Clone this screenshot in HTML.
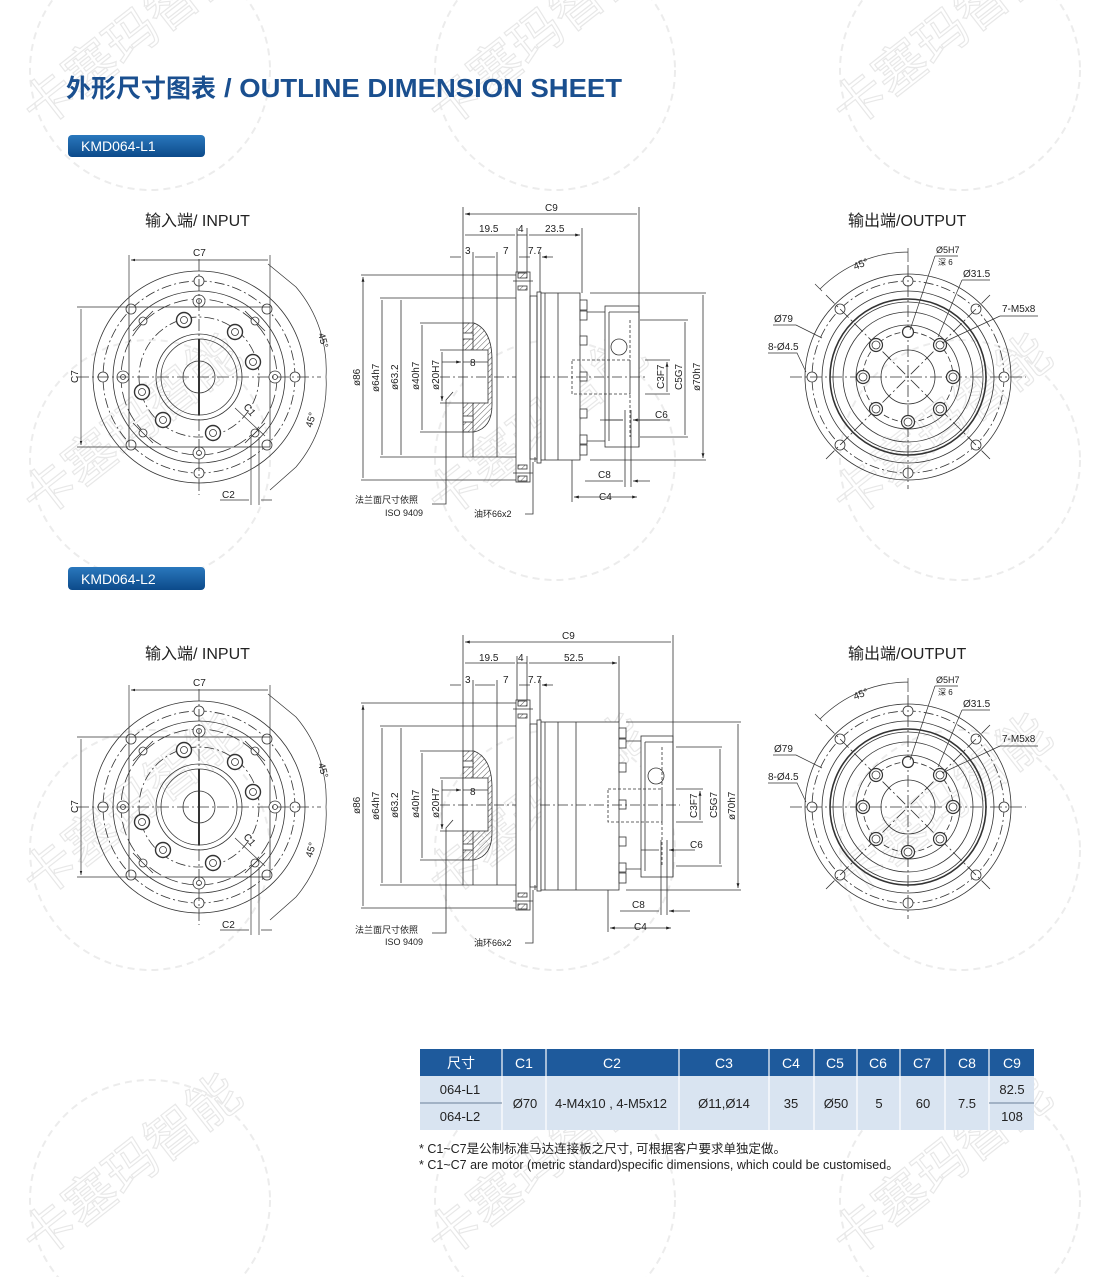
<!DOCTYPE html>
<html><head><meta charset="utf-8"><style>
html,body{margin:0;padding:0;background:#fff}
svg{display:block}
text{font-family:"Liberation Sans","Noto Sans CJK SC",sans-serif}
</style></head><body>
<svg width="1100" height="1277" viewBox="0 0 1100 1277" xmlns="http://www.w3.org/2000/svg">
<defs>
<marker id="a" viewBox="0 0 10 10" refX="10" refY="5" markerWidth="6" markerHeight="6" orient="auto-start-reverse"><path d="M0,2 L10,5 L0,8z" fill="#222"/></marker>
<linearGradient id="bg" x1="0" y1="0" x2="0" y2="1"><stop offset="0" stop-color="#2a78bd"/><stop offset="1" stop-color="#0c4a8a"/></linearGradient>
<pattern id="h" width="4" height="4" patternUnits="userSpaceOnUse" patternTransform="rotate(45)"><line x1="0" y1="0" x2="0" y2="4" stroke="#333" stroke-width="0.8"/></pattern>

<g id="inv" fill="none" stroke="#333" stroke-width="0.8">
 <circle r="106"/><circle r="86"/>
 <circle r="96" stroke-dasharray="10 3 2 3"/>
 <g fill="#fff"><circle cx="96" r="5"/><circle cx="-96" r="5"/><circle cy="96" r="5"/><circle cy="-96" r="5"/>
 <circle cx="68" cy="68" r="5"/><circle cx="-68" cy="68" r="5"/><circle cx="68" cy="-68" r="5"/><circle cx="-68" cy="-68" r="5"/></g>
 <rect x="-70" y="-70" width="141" height="140"/>
 <circle r="78" stroke-dasharray="14 4"/>
 <g fill="#fff"><circle cx="76" r="6"/><circle cx="-76" r="6"/><circle cy="76" r="6"/><circle cy="-76" r="6"/></g>
 <circle cx="76" r="2.5"/><circle cx="-76" r="2.5"/><circle cy="76" r="2.5"/><circle cy="-76" r="2.5"/>
 <g fill="#fff"><circle cx="56" cy="-56" r="4"/><circle cx="-56" cy="-56" r="4"/><circle cx="56" cy="56" r="4"/><circle cx="-56" cy="56" r="4"/></g>
 <path d="M46,-66 L66,-46 M-46,-66 L-66,-46 M46,66 L66,46 M-46,66 L-66,46"/>
 <circle r="60" stroke-dasharray="10 3 2 3"/>
 <g stroke-width="1.4" fill="#fff">
  <circle cx="-15" cy="-57" r="7.5"/><circle cx="36" cy="-45" r="7.5"/><circle cx="54" cy="-15" r="7.5"/>
  <circle cx="-57" cy="15" r="7.5"/><circle cx="-36" cy="43" r="7.5"/><circle cx="14" cy="56" r="7.5"/></g>
 <circle cx="-15" cy="-57" r="3.5"/><circle cx="36" cy="-45" r="3.5"/><circle cx="54" cy="-15" r="3.5"/>
 <circle cx="-57" cy="15" r="3.5"/><circle cx="-36" cy="43" r="3.5"/><circle cx="14" cy="56" r="3.5"/>
 <circle r="43"/><circle r="38"/><circle r="16"/>
 <path d="M-122,0 H122 M0,-118 V118" stroke-dasharray="12 3 2 3"/>
 <path d="M0,-38 V38" stroke-width="2"/>
</g>

<g id="outv" fill="none" stroke="#333" stroke-width="0.8">
 <circle r="103"/><circle r="96" stroke-dasharray="10 3 2 3"/>
 <g fill="#fff"><circle cx="96" r="5"/><circle cx="-96" r="5"/><circle cy="96" r="5"/><circle cy="-96" r="5"/>
 <circle cx="68" cy="68" r="5"/><circle cx="-68" cy="68" r="5"/><circle cx="68" cy="-68" r="5"/><circle cx="-68" cy="-68" r="5"/></g>
 <circle r="86"/><circle r="78" stroke-width="1.6"/><circle r="75"/><circle r="65"/><circle r="52"/>
 <circle r="45" stroke-dasharray="6 3"/><circle r="27"/>
 <path d="M-118,0 H118 M0,-112 V112 M-82,-82 L82,82 M82,-82 L-82,82" stroke-dasharray="12 3 2 3"/>
 <g fill="#fff" stroke-width="1.2"><circle cx="32" cy="-32" r="6.5"/><circle cx="45" r="6.5"/><circle cx="32" cy="32" r="6.5"/><circle cy="45" r="6.5"/><circle cx="-32" cy="32" r="6.5"/><circle cx="-45" r="6.5"/><circle cx="-32" cy="-32" r="6.5"/><circle cy="-45" r="5.5"/></g>
 <circle cx="32" cy="-32" r="4"/><circle cx="45" r="4"/><circle cx="32" cy="32" r="4"/><circle cy="45" r="4"/><circle cx="-32" cy="32" r="4"/><circle cx="-45" r="4"/><circle cx="-32" cy="-32" r="4"/>
</g>

<g id="sideL" fill="none" stroke="#333" stroke-width="0.8">
 <path d="M361,275 H516 M361,480 H516 M380,298 H463 M380,457 H463 M420,323 H470 M420,432 H470 M440,350 H463 M440,403 H463"/>
 <path d="M363,277 V478 M382,300 V455 M401,300 V455 M422,325 V430 M442,352 V401" marker-start="url(#a)" marker-end="url(#a)"/>
 <path d="M463,298 H516 M463,457 H516 M473,298 V457 M497,298 V457 M463,207 V457"/>
 <path d="M463,323 H474 Q492,330 492,360 V405 Q492,428 474,432 H463 Z" fill="url(#h)"/>
 <rect x="463" y="350" width="25" height="53" fill="#fff"/>
 <rect x="463" y="333" width="10" height="6" fill="#fff"/><rect x="463" y="416" width="10" height="6" fill="#fff"/>
 <path d="M463,362 H488" />
 <path d="M440,377 H520" stroke-dasharray="10 3 2 3"/>
 <rect x="516" y="272" width="14" height="210" fill="#fff"/>
 <rect x="518" y="273" width="9" height="5" fill="url(#h)"/><rect x="518" y="286" width="9" height="4" fill="url(#h)"/>
 <rect x="518" y="465" width="9" height="4" fill="url(#h)"/><rect x="518" y="476" width="9" height="5" fill="url(#h)"/>
 <path d="M513,281 H533 M513,473 H533"/>
 <rect x="530" y="296" width="7" height="163"/><rect x="537" y="292" width="4" height="171"/>
 <path d="M535,457 V462"/>
</g>
</defs>

<!-- watermarks -->
<g fill="none" stroke="#ececec" stroke-width="2" stroke-dasharray="7 5">
 <circle cx="150" cy="70" r="120"/><circle cx="555" cy="70" r="120"/><circle cx="960" cy="70" r="120"/>
 <circle cx="150" cy="460" r="120"/><circle cx="555" cy="460" r="120"/><circle cx="960" cy="460" r="120"/>
 <circle cx="150" cy="850" r="120"/><circle cx="555" cy="850" r="120"/><circle cx="960" cy="850" r="120"/>
 <circle cx="150" cy="1200" r="120"/><circle cx="555" cy="1200" r="120"/><circle cx="960" cy="1200" r="120"/>
</g>
<g fill="none" stroke="#e8e8e8" stroke-width="1.2" font-size="52" font-family="'Noto Sans CJK SC',sans-serif">
 <text transform="translate(40,130) rotate(-38)">卡塞玛智能</text>
 <text transform="translate(445,130) rotate(-38)">卡塞玛智能</text>
 <text transform="translate(850,130) rotate(-38)">卡塞玛智能</text>
 <text transform="translate(40,520) rotate(-38)">卡塞玛智能</text>
 <text transform="translate(445,520) rotate(-38)">卡塞玛智能</text>
 <text transform="translate(850,520) rotate(-38)">卡塞玛智能</text>
 <text transform="translate(40,900) rotate(-38)">卡塞玛智能</text>
 <text transform="translate(445,900) rotate(-38)">卡塞玛智能</text>
 <text transform="translate(850,900) rotate(-38)">卡塞玛智能</text>
 <text transform="translate(40,1260) rotate(-38)">卡塞玛智能</text>
 <text transform="translate(445,1260) rotate(-38)">卡塞玛智能</text>
 <text transform="translate(850,1260) rotate(-38)">卡塞玛智能</text>
</g>

<text x="66" y="97" font-size="25" font-weight="bold" fill="#1a4f8f" font-family="'Noto Sans CJK SC',sans-serif">外形尺寸图表</text>
<text x="224" y="97" font-size="26" font-weight="bold" fill="#1a4f8f" font-family="'Liberation Sans Narrow','Liberation Sans',sans-serif" textLength="398" lengthAdjust="spacingAndGlyphs">/ OUTLINE DIMENSION SHEET</text>

<rect x="68" y="135" width="137" height="22" rx="4" fill="url(#bg)"/>
<text x="81" y="151" font-size="14" fill="#fff">KMD064-L1</text>
<rect x="68" y="567" width="137" height="23" rx="4" fill="url(#bg)"/>
<text x="81" y="584" font-size="14" fill="#fff">KMD064-L2</text>

<g font-size="16" fill="#222"><text x="145" y="226">输入端/ INPUT</text><text x="848" y="226">输出端/OUTPUT</text>
<text x="145" y="659">输入端/ INPUT</text><text x="848" y="659">输出端/OUTPUT</text></g>

<g id="indims">
<use href="#inv" x="199" y="377"/>
<g fill="none" stroke="#333" stroke-width="0.7">
 <path d="M129,307 V255 M270,307 V255 M128,307 H77 M128,447 H77"/>
 <path d="M131,260 H268 M81,309 V445" marker-start="url(#a)" marker-end="url(#a)"/>
 <path d="M268,264 L296,287 A127,127 0 0 1 326,377 M326,377 A127,127 0 0 1 296,467 L270,490"/>
 <path d="M251,437 V505 M259,437 V505 M220,500 H249 M261,500 H272"/>
 <path d="M235,408 L265,436"/>
</g>
<g font-size="10" fill="#222"><text x="193" y="256">C7</text><text transform="translate(78,383) rotate(-90)">C7</text>
<text transform="translate(318,334) rotate(75)">45°</text><text transform="translate(312,428) rotate(-75)">45°</text>
<text transform="translate(243,407) rotate(50)">C1</text><text x="222" y="498">C2</text></g>
</g>
<use href="#indims" y="430"/>

<g id="outdims">
<use href="#outv" x="908" y="377"/>
<g fill="none" stroke="#333" stroke-width="0.7">
 <path d="M908,262 V248 M822,291 L815,284 M820,289 A125,125 0 0 1 908,252"/>
 <path d="M935,256 H958 M935,256 L910,330 M962,280 H990 M962,280 L938,337 M1000,316 H1038 M1000,316 L942,343 M773,325 H796 L822,338 M768,353 H797 L806,372"/>
</g>
<g font-size="10" fill="#222"><text x="936" y="253" font-size="9">Ø5H7</text><text x="938" y="265" font-size="8">深 6</text>
<text x="963" y="277">Ø31.5</text><text x="1002" y="312">7-M5x8</text><text x="774" y="322">Ø79</text><text x="768" y="350">8-Ø4.5</text>
<text transform="translate(855,270) rotate(-22)">45°</text></g>
</g>
<use href="#outdims" y="430"/>

<use href="#sideL"/>
<g fill="none" stroke="#333" stroke-width="0.8">
 <rect x="541" y="293" width="39" height="167" fill="#fff"/><path d="M558,293 V460 M545,293 V460"/>
 <g fill="#fff"><rect x="580" y="300" width="7" height="10"/><rect x="580" y="311" width="7" height="9"/><rect x="580" y="336" width="7" height="9"/><rect x="580" y="372" width="7" height="9"/><rect x="580" y="409" width="7" height="9"/><rect x="580" y="435" width="7" height="9"/><rect x="580" y="445" width="7" height="10"/></g>
 <path d="M587,312 H605 M587,441 H605"/>
 <rect x="605" y="306" width="34" height="141" fill="#fff"/><path d="M609,312 V441 M609,312 H639"/>
 <circle cx="619" cy="347" r="8"/>
 <path d="M572,360 H630 V394 H572 Z M630,320 V437" stroke-dasharray="3 2"/>
 <path d="M540,377 H645" stroke-dasharray="10 3 2 3"/>
 <path d="M639,207 V447 M582,228 V293 M517,228 V272 M527,228 V272 M473,252 V298 M497,252 V298 M540,252 V292"/>
 <path d="M465,214 H637 M465,235 H515 M529,235 H580" marker-start="url(#a)" marker-end="url(#a)"/>
 <path d="M517,235 H527"/>
 <path d="M450,257 H461 M486,257 H475 M484,257 H495 M530,257 H519 M522,257 H525 M553,257 H542" marker-end="url(#a)"/>
 <path d="M442,362 H461" marker-end="url(#a)"/>
 <path d="M645,360 H670 M645,394 H670 M640,320 H688 M640,437 H688 M590,293 H706 M590,460 H706"/>
 <path d="M667,362 V392 M685,322 V435 M703,295 V458" marker-start="url(#a)" marker-end="url(#a)"/>
 <path d="M625,410 V487 M631,410 V487 M572,460 V502 M600,420 H623 M670,420 H633" />
 <path d="M605,420 H623 M660,420 H633" marker-end="url(#a)"/>
 <path d="M585,481 H623 M650,481 H633" marker-end="url(#a)"/>
 <path d="M574,497 H637" marker-start="url(#a)" marker-end="url(#a)"/>
 <path d="M453,392 L446,400 V504 H432 M533,462 V514 H525"/>
</g>
<g font-size="10" fill="#222">
 <text x="545" y="211">C9</text><text x="479" y="232">19.5</text><text x="518" y="232">4</text><text x="545" y="232">23.5</text>
 <text x="465" y="254">3</text><text x="503" y="254">7</text><text x="528" y="254">7.7</text><text x="470" y="366">8</text>
 <text transform="translate(360,386) rotate(-90)">ø86</text><text transform="translate(379,392) rotate(-90)">ø64h7</text>
 <text transform="translate(398,390) rotate(-90)">ø63.2</text><text transform="translate(419,390) rotate(-90)">ø40h7</text>
 <text transform="translate(439,390) rotate(-90)">ø20H7</text>
 <text transform="translate(664,389) rotate(-90)">C3F7</text><text transform="translate(682,390) rotate(-90)">C5G7</text>
 <text transform="translate(700,391) rotate(-90)">ø70h7</text>
 <text x="655" y="418">C6</text><text x="598" y="478">C8</text><text x="599" y="500">C4</text>
 <text x="355" y="503" font-size="9">法兰面尺寸依照</text><text x="385" y="516" font-size="9">ISO 9409</text>
 <text x="474" y="517" font-size="9">油环66x2</text>
</g>

<use href="#sideL" y="428"/>
<g fill="none" stroke="#333" stroke-width="0.8">
 <rect x="541" y="722" width="78" height="168" fill="#fff"/><path d="M545,722 V890 M558,722 V890 M576,722 V890"/>
 <g fill="#fff"><rect x="619" y="728" width="7" height="10"/><rect x="619" y="739" width="7" height="9"/><rect x="619" y="763" width="7" height="9"/><rect x="619" y="800" width="7" height="9"/><rect x="619" y="837" width="7" height="9"/><rect x="619" y="863" width="7" height="9"/><rect x="619" y="873" width="7" height="10"/></g>
 <path d="M626,741 H641 M626,869 H641"/>
 <rect x="641" y="736" width="32" height="141" fill="#fff"/><path d="M645,742 V871 M645,742 H673"/>
 <circle cx="656" cy="776" r="8"/>
 <path d="M608,789 H662 V822 H608 Z M662,747 V866" stroke-dasharray="3 2"/>
 <path d="M540,805 H680" stroke-dasharray="10 3 2 3"/>
 <path d="M673,635 V877 M619,656 V722 M517,656 V700 M527,656 V700 M473,680 V726 M497,680 V726 M540,680 V720"/>
 <path d="M465,642 H671 M465,663 H515 M529,663 H617" marker-start="url(#a)" marker-end="url(#a)"/>
 <path d="M517,663 H527"/>
 <path d="M450,685 H461 M486,685 H475 M484,685 H495 M530,685 H519 M522,685 H525 M553,685 H542" marker-end="url(#a)"/>
 <path d="M442,790 H461" marker-end="url(#a)"/>
 <path d="M676,789 H703 M676,822 H703 M676,747 H722 M676,866 H722 M626,722 H741 M626,890 H741"/>
 <path d="M700,791 V820 M720,749 V864 M738,724 V888" marker-start="url(#a)" marker-end="url(#a)"/>
 <path d="M661,840 V915 M667,840 V915 M608,890 V932"/>
 <path d="M641,850 H659 M695,850 H669" marker-end="url(#a)"/>
 <path d="M620,911 H659 M690,911 H669" marker-end="url(#a)"/>
 <path d="M610,928 H671" marker-start="url(#a)" marker-end="url(#a)"/>
 <path d="M453,820 L446,828 V933 H432 M533,890 V943 H525"/>
</g>
<g font-size="10" fill="#222">
 <text x="562" y="639">C9</text><text x="479" y="661">19.5</text><text x="518" y="661">4</text><text x="564" y="661">52.5</text>
 <text x="465" y="683">3</text><text x="503" y="683">7</text><text x="528" y="683">7.7</text><text x="470" y="795">8</text>
 <text transform="translate(360,814) rotate(-90)">ø86</text><text transform="translate(379,820) rotate(-90)">ø64h7</text>
 <text transform="translate(398,818) rotate(-90)">ø63.2</text><text transform="translate(419,818) rotate(-90)">ø40h7</text>
 <text transform="translate(439,818) rotate(-90)">ø20H7</text>
 <text transform="translate(697,818) rotate(-90)">C3F7</text><text transform="translate(717,818) rotate(-90)">C5G7</text>
 <text transform="translate(735,820) rotate(-90)">ø70h7</text>
 <text x="690" y="848">C6</text><text x="632" y="908">C8</text><text x="634" y="930">C4</text>
 <text x="355" y="933" font-size="9">法兰面尺寸依照</text><text x="385" y="945" font-size="9">ISO 9409</text>
 <text x="474" y="946" font-size="9">油环66x2</text>
</g>

<rect x="420" y="1049" width="614" height="27" fill="#1e5a9c"/>
<rect x="420" y="1076" width="614" height="54" fill="#d9e4f1"/>
<g stroke="#fff" stroke-width="1.2">
 <path d="M502,1049 V1130 M546,1049 V1130 M679,1049 V1130 M769,1049 V1130 M814,1049 V1130 M857,1049 V1130 M900,1049 V1130 M945,1049 V1130 M989,1049 V1130"/>
</g>
<path d="M420,1103 H502 M989,1103 H1034" stroke="#6a7f99" stroke-width="1"/>
<g font-size="14" fill="#fff" text-anchor="middle">
 <text x="461" y="1068">尺寸</text><text x="524" y="1068">C1</text><text x="612" y="1068">C2</text><text x="724" y="1068">C3</text>
 <text x="791" y="1068">C4</text><text x="835" y="1068">C5</text><text x="878" y="1068">C6</text><text x="922" y="1068">C7</text>
 <text x="967" y="1068">C8</text><text x="1012" y="1068">C9</text>
</g>
<g font-size="13" fill="#222" text-anchor="middle">
 <text x="460" y="1094">064-L1</text><text x="460" y="1121">064-L2</text>
 <text x="525" y="1108">Ø70</text><text x="611" y="1108">4-M4x10 , 4-M5x12</text><text x="724" y="1108">Ø11,Ø14</text>
 <text x="791" y="1108">35</text><text x="836" y="1108">Ø50</text><text x="879" y="1108">5</text><text x="923" y="1108">60</text>
 <text x="967" y="1108">7.5</text><text x="1012" y="1094">82.5</text><text x="1012" y="1121">108</text>
</g>
<g font-size="12.5" fill="#222">
 <text x="419" y="1153">* C1~C7是公制标准马达连接板之尺寸, 可根据客户要求单独定做。</text>
 <text x="419" y="1169">* C1~C7 are motor (metric standard)specific dimensions, which could be customised。</text>
</g>
</svg>
</body></html>
